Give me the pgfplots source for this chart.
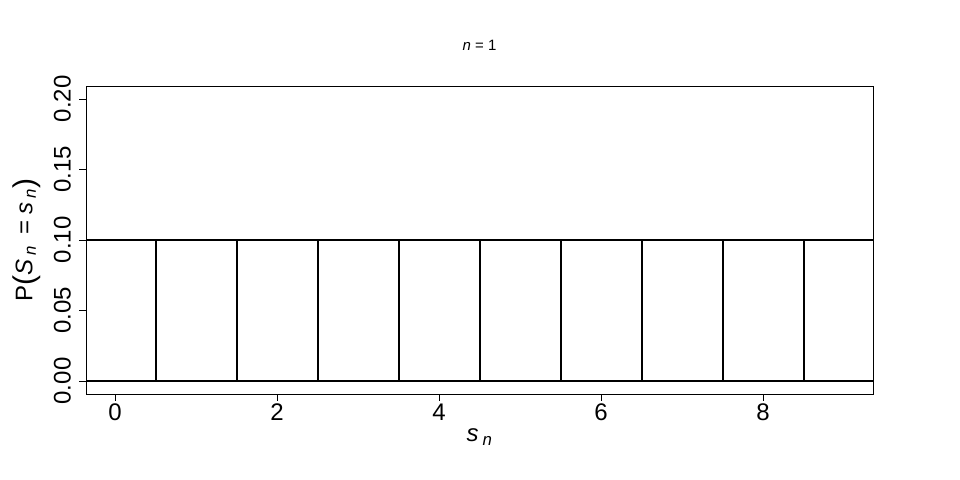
\documentclass[border=0pt]{standalone}
\usepackage{fontspec}
\setmainfont{Liberation Sans}
\usepackage{pgfplots}
\pgfplotsset{compat=1.18}
\newcommand{\bigpar}[1]{\raisebox{-2.5bp}{\fontsize{30bp}{30bp}\selectfont #1}}
\begin{document}
\begin{tikzpicture}[x=1bp,y=1bp]
\path[use as bounding box] (0,0) rectangle (960,480);
\begin{axis}[
  at={(86bp,86bp)}, anchor=south west,
  scale only axis, width=787bp, height=308bp,
  xmin=-0.358, xmax=9.358, ymin=-0.00922, ymax=0.2092,
  xtick={0,2,4,6,8},
  ytick={0,0.05,0.10,0.15,0.20},
  yticklabels={0.00,0.05,0.10,0.15,0.20},
  xtick pos=bottom, ytick pos=left,
  tick align=outside,
  major tick length=7bp,
  minor tick num=0,
  tick style={black, line width=0.8bp},
  axis line style={line width=0.8bp},
  /pgf/number format/assume math mode=true,
  tick label style={font=\fontsize{24bp}{28bp}\selectfont},
  xticklabel style={inner sep=0pt, anchor=north, yshift=-3bp},
  yticklabel style={inner sep=0pt, rotate=90, anchor=south, yshift=8bp},
  xlabel={\textit{s}\,\textsubscript{\textit{n}}},
  ylabel={P\bigpar{(}\textit{S}\,\textsubscript{\textit{n}}\, = \textit{s}\,\textsubscript{\textit{n}}\bigpar{)}},
  label style={font=\fontsize{24bp}{28bp}\selectfont},
  xlabel style={at={(rel axis cs:0.5,0)}, anchor=center, yshift=-43bp},
  ylabel style={at={(rel axis cs:0,0.5)}, anchor=center, yshift=59bp},
  title={\textit{n} = 1},
  title style={font=\fontsize{15bp}{17bp}\selectfont, at={(rel axis cs:0.5,1)}, anchor=center, yshift=35bp},
]
\addplot[ybar, bar width=1, draw=black, fill=none, line width=2bp] coordinates {
(0,0.1) (1,0.1) (2,0.1) (3,0.1) (4,0.1) (5,0.1) (6,0.1) (7,0.1) (8,0.1) (9,0.1)
};
\end{axis}
\end{tikzpicture}
\end{document}
